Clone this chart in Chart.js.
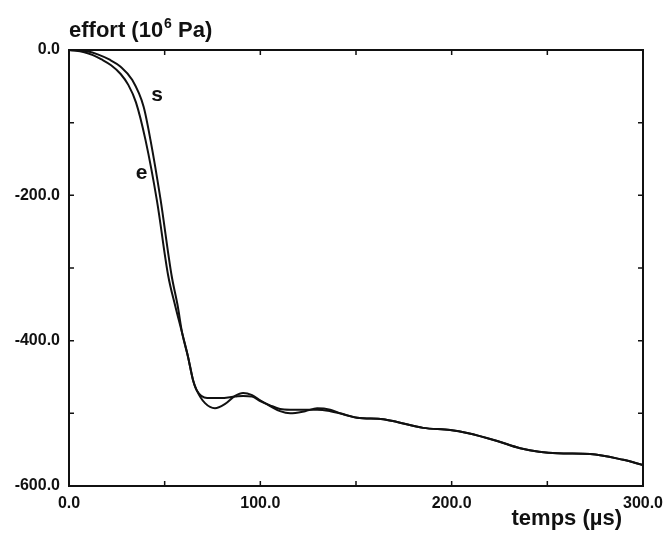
<!DOCTYPE html>
<html>
<head>
<meta charset="utf-8">
<script src="https://cdn.jsdelivr.net/npm/chart.js@4"></script>
<style>
  html, body { margin: 0; padding: 0; background: #fff; }
  #wrap { width: 664px; height: 536px; }
</style>
</head>
<body>
<div id="wrap"><canvas id="myChart" width="664" height="536"></canvas></div>
<script>
// courbe e
const tempsE = [0, 8, 12.5, 17, 22, 27, 31, 35, 40, 46, 51.8, 55.5, 59.1, 62.2, 64.8, 66.9, 71.1, 76.3, 81.6, 86.8, 91.0, 95.7, 99.9, 105.1, 110.3, 115.6, 123.4, 129.7, 136.5, 141.7, 150.6, 164.2, 171.5, 185.1, 199.2, 208.1, 223.8, 235.8, 255.2, 272.4, 289.7, 300];
const effortE = [0, -3, -7, -13, -21, -33, -48, -72, -124, -208, -310, -352, -389, -422, -454, -469, -486, -493, -487, -476, -472, -475, -482, -490, -497, -500, -497, -493, -495, -500, -506, -508, -512, -520, -523, -527, -538, -548, -555, -556, -564, -571];

// courbe s
const tempsS = [0, 10, 15, 21, 27, 33, 39, 42.6, 47.8, 53.6, 56.8, 59.1, 62.2, 64.8, 66.9, 72.2, 79.0, 86.8, 91.0, 95.7, 99.9, 105.1, 110.3, 115.6, 123.4, 129.7, 136.5, 141.7, 150.6, 164.2, 171.5, 185.1, 199.2, 208.1, 223.8, 235.8, 255.2, 272.4, 289.7, 300];
const effortS = [0, -2, -6, -13, -23, -41, -78, -124, -205, -310, -352, -389, -422, -454, -469, -479, -479, -477, -476, -477, -483, -489, -494, -495, -495, -495, -497, -500, -506, -508, -512, -520, -523, -527, -538, -548, -555, -556, -564, -571];

const xTicks = [0, 100, 200, 300];
const yTicks = [0, -200, -400, -600];

const curveLabels = [
  { text: 's', x: 46, y: -62 },
  { text: 'e', x: 38, y: -169 }
];

function toPoints(xs, ys) {
  return xs.map((x, i) => ({ x: x, y: ys[i] }));
}

const font = '"Liberation Sans", Arial, sans-serif';

const config = {
  type: 'line',
  data: {
    datasets: [
      {
        label: 'e',
        data: toPoints(tempsE, effortE),
        borderColor: '#111',
        borderWidth: 2,
        pointRadius: 0,
        cubicInterpolationMode: 'monotone',
        fill: false
      },
      {
        label: 's',
        data: toPoints(tempsS, effortS),
        borderColor: '#111',
        borderWidth: 2,
        pointRadius: 0,
        cubicInterpolationMode: 'monotone',
        fill: false
      }
    ]
  },
  options: {
    responsive: false,
    animation: false,
    layout: { padding: { top: 50, right: 21, left: 0, bottom: 0 } },
    plugins: {
      legend: { display: false },
      tooltip: { enabled: false }
    },
    scales: {
      x: {
        type: 'linear',
        min: 0,
        max: 300,
        afterBuildTicks(scale) { scale.ticks = xTicks.map(v => ({ value: v })); },
        afterFit(scale) {
          scale.height = 50;
          scale.paddingLeft = 0;
          scale.paddingRight = 0;
        },
        grid: { display: false, drawTicks: false },
        border: { display: false },
        ticks: {
          padding: 8,
          color: '#111',
          font: { family: font, size: 16, weight: 'bold' },
          callback: v => v.toFixed(1),
          maxRotation: 0
        }
      },
      y: {
        type: 'linear',
        min: -600,
        max: 0,
        afterBuildTicks(scale) { scale.ticks = yTicks.map(v => ({ value: v })); },
        afterFit(scale) {
          scale.width = 69;
          scale.paddingTop = 0;
          scale.paddingBottom = 0;
        },
        grid: { display: false, drawTicks: false },
        border: { display: false },
        ticks: {
          padding: 9,
          color: '#111',
          font: { family: font, size: 16, weight: 'bold' },
          callback: v => v.toFixed(1)
        }
      }
    }
  },
  plugins: [{
    afterDraw(chart) {
      const ctx = chart.ctx;
      const a = chart.chartArea;
      const xs = chart.scales.x, ys = chart.scales.y;
      ctx.save();
      // cadre
      ctx.strokeStyle = '#111';
      ctx.lineWidth = 2;
      ctx.strokeRect(a.left, a.top, a.right - a.left, a.bottom - a.top);
      // petites graduations vers l'intérieur
      ctx.lineWidth = 1.5;
      ctx.beginPath();
      for (let v = 0; v <= 300; v += 50) {
        const px = xs.getPixelForValue(v);
        ctx.moveTo(px, a.bottom); ctx.lineTo(px, a.bottom - 5);
        ctx.moveTo(px, a.top); ctx.lineTo(px, a.top + 5);
      }
      for (let v = 0; v >= -600; v -= 100) {
        const py = ys.getPixelForValue(v);
        ctx.moveTo(a.left, py); ctx.lineTo(a.left + 5, py);
        ctx.moveTo(a.right, py); ctx.lineTo(a.right - 5, py);
      }
      ctx.stroke();

      ctx.fillStyle = '#111';
      // titre de l'axe y
      ctx.font = 'bold 22px ' + font;
      ctx.textAlign = 'left';
      ctx.textBaseline = 'alphabetic';
      let x = a.left;
      const base = 37;
      ctx.fillText('effort (10', x, base);
      x += ctx.measureText('effort (10').width;
      ctx.font = 'bold 14px ' + font;
      ctx.fillText('6', x + 1, base - 9);
      x += ctx.measureText('6').width + 1;
      ctx.font = 'bold 22px ' + font;
      ctx.fillText(' Pa)', x, base);

      // titre de l'axe x
      ctx.font = 'bold 22px ' + font;
      ctx.textAlign = 'right';
      ctx.fillText('temps (\u00b5s)', 622, 525);

      // étiquettes des courbes
      ctx.font = 'bold 21px ' + font;
      ctx.textAlign = 'center';
      ctx.textBaseline = 'middle';
      curveLabels.forEach(l => {
        ctx.fillText(l.text, xs.getPixelForValue(l.x), ys.getPixelForValue(l.y));
      });
      ctx.restore();
    }
  }]
};

const ctx = document.getElementById('myChart').getContext('2d');
new Chart(ctx, config);
</script>
</body>
</html>
